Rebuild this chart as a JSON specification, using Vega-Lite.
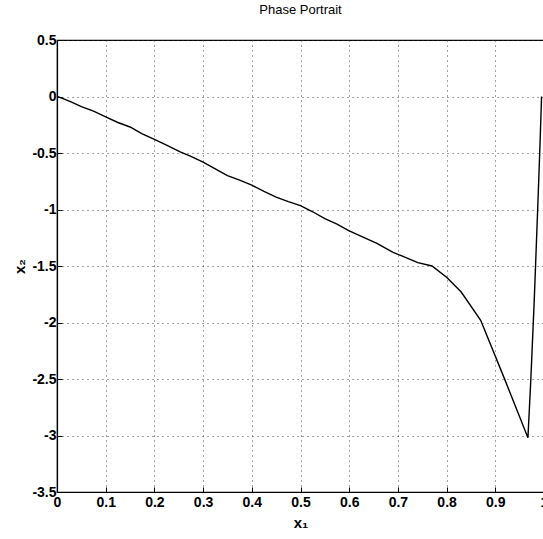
{
  "$schema": "https://vega.github.io/schema/vega-lite/v6.json",
  "width": 487,
  "height": 452,
  "autosize": {"type": "none"},
  "padding": {"left": 57, "top": 40, "right": 0, "bottom": 47},
  "background": "white",
  "title": {"text": "Phase Portrait", "font": "Liberation Sans", "fontSize": 13, "fontWeight": "normal", "color": "black", "offset": 16, "anchor": "middle"},
  "config": {
    "view": {"stroke": "black", "strokeWidth": 1.2},
    "axis": {
      "labelFont": "Liberation Sans", "labelFontSize": 14, "labelFontWeight": "bold", "labelColor": "black",
      "titleFont": "Liberation Sans", "titleFontSize": 15, "titleFontWeight": "bold", "titleColor": "black",
      "domainColor": "black", "domainWidth": 1.2, "tickColor": "black", "tickSize": -5, "tickWidth": 1,
      "gridColor": "#333", "gridDash": [1, 4], "gridWidth": 1, "gridOpacity": 0.9
    }
  },
  "data": {"values": [
    {"i": 0, "x1": 0, "x2": 0},
    {"i": 1, "x1": 0.01, "x2": -0.015},
    {"i": 2, "x1": 0.03, "x2": -0.05},
    {"i": 3, "x1": 0.05, "x2": -0.09},
    {"i": 4, "x1": 0.075, "x2": -0.13},
    {"i": 5, "x1": 0.1, "x2": -0.18},
    {"i": 6, "x1": 0.125, "x2": -0.23},
    {"i": 7, "x1": 0.15, "x2": -0.27},
    {"i": 8, "x1": 0.175, "x2": -0.33},
    {"i": 9, "x1": 0.2, "x2": -0.38},
    {"i": 10, "x1": 0.225, "x2": -0.43},
    {"i": 11, "x1": 0.253, "x2": -0.49},
    {"i": 12, "x1": 0.275, "x2": -0.53},
    {"i": 13, "x1": 0.3, "x2": -0.58},
    {"i": 14, "x1": 0.325, "x2": -0.64},
    {"i": 15, "x1": 0.35, "x2": -0.7},
    {"i": 16, "x1": 0.375, "x2": -0.74},
    {"i": 17, "x1": 0.4, "x2": -0.785},
    {"i": 18, "x1": 0.425, "x2": -0.84},
    {"i": 19, "x1": 0.45, "x2": -0.89},
    {"i": 20, "x1": 0.475, "x2": -0.93},
    {"i": 21, "x1": 0.5, "x2": -0.965},
    {"i": 22, "x1": 0.525, "x2": -1.02},
    {"i": 23, "x1": 0.55, "x2": -1.08},
    {"i": 24, "x1": 0.575, "x2": -1.13},
    {"i": 25, "x1": 0.6, "x2": -1.19},
    {"i": 26, "x1": 0.657, "x2": -1.3},
    {"i": 27, "x1": 0.69, "x2": -1.38},
    {"i": 28, "x1": 0.708, "x2": -1.41},
    {"i": 29, "x1": 0.741, "x2": -1.47},
    {"i": 30, "x1": 0.77, "x2": -1.5},
    {"i": 31, "x1": 0.8, "x2": -1.6},
    {"i": 32, "x1": 0.83, "x2": -1.73},
    {"i": 33, "x1": 0.87, "x2": -1.98},
    {"i": 34, "x1": 0.885, "x2": -2.14},
    {"i": 35, "x1": 0.92, "x2": -2.51},
    {"i": 36, "x1": 0.945, "x2": -2.78},
    {"i": 37, "x1": 0.967, "x2": -3.02},
    {"i": 38, "x1": 0.973, "x2": -2.5},
    {"i": 39, "x1": 0.98, "x2": -1.8},
    {"i": 40, "x1": 0.987, "x2": -1.0},
    {"i": 41, "x1": 0.992, "x2": -0.4},
    {"i": 42, "x1": 0.995, "x2": 0.0}
  ]},
  "mark": {"type": "line", "color": "black", "strokeWidth": 1.4, "clip": true},
  "encoding": {
    "x": {"field": "x1", "type": "quantitative", "scale": {"domain": [0, 1], "nice": false, "zero": false},
      "axis": {"title": "x₁", "values": [0, 0.1, 0.2, 0.3, 0.4, 0.5, 0.6, 0.7, 0.8, 0.9, 1], "format": "~g", "labelPadding": 8, "titlePadding": 6, "labelFlush": false}},
    "y": {"field": "x2", "type": "quantitative", "scale": {"domain": [-3.5, 0.5], "nice": false, "zero": false},
      "axis": {"title": "x₂", "values": [0.5, 0, -0.5, -1, -1.5, -2, -2.5, -3, -3.5], "labelExpr": "datum.value < 0 ? '-' + format(-datum.value, '~g') : format(datum.value, '~g')", "labelPadding": 6, "titlePadding": 4, "labelFlush": false}},
    "order": {"field": "i", "type": "quantitative"}
  }
}
